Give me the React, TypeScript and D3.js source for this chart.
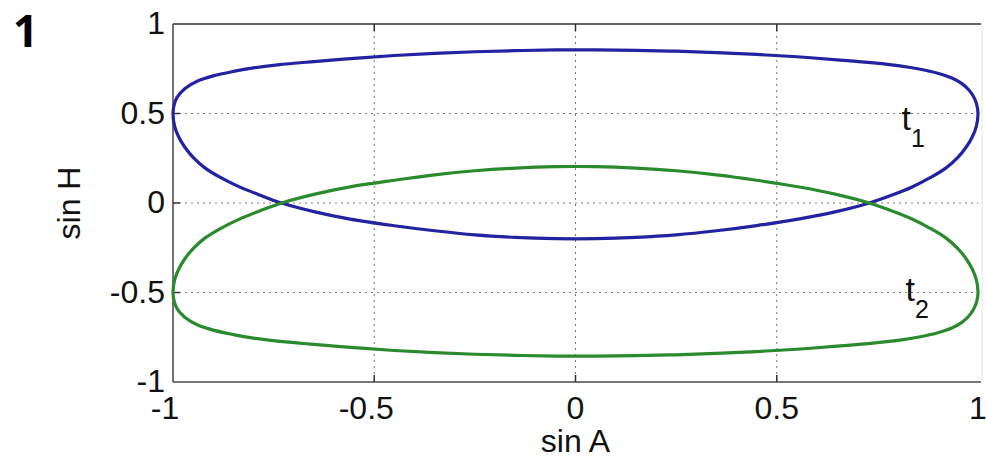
import { useEffect, useRef } from 'react';
import * as d3 from 'd3';

// sin A, sin H pairs
const t1Upper: [number, number][] = [
  [-1, 0.5], [-0.997, 0.55], [-0.99, 0.59], [-0.97, 0.64], [-0.94, 0.68], [-0.9, 0.71],
  [-0.85, 0.735], [-0.8, 0.755], [-0.74, 0.772], [-0.65, 0.79], [-0.55, 0.808],
  [-0.45, 0.824], [-0.35, 0.836], [-0.25, 0.845], [-0.15, 0.851], [-0.05, 0.855], [0.05, 0.855],
  [0.15, 0.853], [0.25, 0.848], [0.35, 0.84], [0.45, 0.83], [0.55, 0.817], [0.65, 0.8],
  [0.74, 0.783], [0.81, 0.765], [0.86, 0.746], [0.9, 0.725], [0.935, 0.698], [0.96, 0.667],
  [0.978, 0.63], [0.99, 0.59], [0.997, 0.548], [1, 0.5],
];
const t1Lower: [number, number][] = [
  [0.996, 0.43], [0.986, 0.37], [0.97, 0.31], [0.95, 0.255], [0.92, 0.195], [0.88, 0.14],
  [0.835, 0.088], [0.785, 0.043], [0.73, 0], [0.65, -0.047], [0.56, -0.087], [0.45, -0.126],
  [0.35, -0.155], [0.25, -0.178], [0.15, -0.192], [0.05, -0.199], [-0.05, -0.199],
  [-0.15, -0.192], [-0.25, -0.178], [-0.35, -0.155], [-0.45, -0.127], [-0.56, -0.09],
  [-0.65, -0.048], [-0.73, 0], [-0.785, 0.045], [-0.835, 0.09], [-0.88, 0.14],
  [-0.92, 0.195], [-0.95, 0.255], [-0.97, 0.31], [-0.986, 0.37], [-0.996, 0.43],
];
const t2Upper: [number, number][] = [
  [-1, -0.5], [-0.996, -0.43], [-0.986, -0.37], [-0.97, -0.31], [-0.95, -0.255],
  [-0.92, -0.195], [-0.88, -0.14], [-0.835, -0.09], [-0.785, -0.045], [-0.73, 0],
  [-0.65, 0.048], [-0.56, 0.09], [-0.45, 0.127], [-0.35, 0.157], [-0.25, 0.18], [-0.15, 0.195],
  [-0.05, 0.203], [0.05, 0.203], [0.15, 0.195], [0.25, 0.18], [0.35, 0.157], [0.45, 0.127],
  [0.56, 0.088], [0.65, 0.047], [0.73, 0], [0.785, -0.043], [0.835, -0.088], [0.88, -0.14],
  [0.92, -0.195], [0.95, -0.255], [0.97, -0.31], [0.986, -0.37], [0.996, -0.43], [1, -0.5],
];
const t2Lower: [number, number][] = [
  [0.997, -0.55], [0.99, -0.59], [0.978, -0.63], [0.96, -0.667], [0.935, -0.698],
  [0.9, -0.725], [0.86, -0.746], [0.81, -0.765], [0.74, -0.783], [0.65, -0.8], [0.55, -0.817],
  [0.45, -0.83], [0.35, -0.84], [0.25, -0.848], [0.15, -0.853], [0.05, -0.855],
  [-0.05, -0.855], [-0.15, -0.851], [-0.25, -0.845], [-0.35, -0.836], [-0.45, -0.824],
  [-0.55, -0.808], [-0.65, -0.79], [-0.74, -0.772], [-0.8, -0.755], [-0.85, -0.735],
  [-0.9, -0.71], [-0.94, -0.68], [-0.97, -0.64], [-0.99, -0.59], [-0.997, -0.55],
];

const xTicks = [-1, -0.5, 0, 0.5, 1];
const yTicks = [-1, -0.5, 0, 0.5, 1];
const xLabels = ['-1', '-0.5', '0', '0.5', '1'];
const yLabels = ['-1', '-0.5', '0', '0.5', '1'];

const W = 987;
const H = 459;
const FONT = '"Liberation Sans", Arial, sans-serif';

export default function App() {
  const svgRef = useRef<SVGSVGElement>(null);

  useEffect(() => {
    const svg = d3.select(svgRef.current);
    svg.selectAll('*').remove();

    const left = 173, right = 978, top = 24, bottom = 382;
    const x = d3.scaleLinear().domain([-1, 1]).range([left, right]);
    const y = d3.scaleLinear().domain([-1, 1]).range([bottom, top]);

    svg.append('rect').attr('width', W).attr('height', H).attr('fill', '#fff');

    // dotted grid
    const grid = svg.append('g').attr('stroke', '#777').attr('stroke-width', 1).attr('stroke-dasharray', '2 4');
    xTicks.slice(1, -1).forEach(t => {
      grid.append('line').attr('x1', x(t)).attr('x2', x(t)).attr('y1', top).attr('y2', bottom);
    });
    yTicks.slice(1, -1).forEach(t => {
      grid.append('line').attr('x1', left).attr('x2', right).attr('y1', y(t)).attr('y2', y(t));
    });

    // box
    svg.append('line').attr('x1', left).attr('x2', right + 3).attr('y1', top).attr('y2', top)
      .attr('stroke', '#666').attr('stroke-width', 2);
    svg.append('line').attr('x1', left).attr('x2', right + 3).attr('y1', bottom).attr('y2', bottom)
      .attr('stroke', '#777').attr('stroke-width', 2);
    svg.append('line').attr('x1', left).attr('x2', left).attr('y1', top).attr('y2', bottom)
      .attr('stroke', '#444').attr('stroke-width', 1.5);
    svg.append('line').attr('x1', right + 4).attr('x2', right + 4).attr('y1', top).attr('y2', bottom)
      .attr('stroke', '#e4e4e4').attr('stroke-width', 1);

    // inside ticks
    const ticks = svg.append('g').attr('stroke', '#333').attr('stroke-width', 1.5);
    xTicks.slice(1, -1).forEach(t => {
      ticks.append('line').attr('x1', x(t)).attr('x2', x(t)).attr('y1', bottom).attr('y2', bottom - 7);
      ticks.append('line').attr('x1', x(t)).attr('x2', x(t)).attr('y1', top).attr('y2', top + 7);
    });
    yTicks.slice(1, -1).forEach(t => {
      ticks.append('line').attr('x1', left).attr('x2', left + 7).attr('y1', y(t)).attr('y2', y(t));
    });

    // curves
    const line = d3.line<[number, number]>()
      .x(d => x(d[0]))
      .y(d => y(d[1]))
      .curve(d3.curveCatmullRomClosed.alpha(0.5));

    svg.append('path').attr('d', line([...t1Upper, ...t1Lower]))
      .attr('fill', 'none').attr('stroke', '#2222a2').attr('stroke-width', 3.2);
    svg.append('path').attr('d', line([...t2Upper, ...t2Lower]))
      .attr('fill', 'none').attr('stroke', '#2a8a2e').attr('stroke-width', 3.2);

    // tick labels
    const lab = svg.append('g').attr('font-family', FONT).attr('font-size', 32).attr('fill', '#111');
    xTicks.forEach((t, i) => {
      lab.append('text').attr('x', x(t) + (t < 0 ? -8 : 0)).attr('y', 419)
        .attr('text-anchor', 'middle').text(xLabels[i]);
    });
    yTicks.forEach((t, i) => {
      lab.append('text').attr('x', 165).attr('y', y(t) + 10)
        .attr('text-anchor', 'end').text(yLabels[i]);
    });

    // axis titles
    svg.append('text').attr('x', x(0)).attr('y', 452).attr('text-anchor', 'middle')
      .attr('font-family', FONT).attr('font-size', 32).attr('fill', '#111').text('sin A');
    svg.append('text').attr('transform', `translate(80, ${y(0)}) rotate(-90)`)
      .attr('text-anchor', 'middle').attr('font-family', FONT).attr('font-size', 32)
      .attr('fill', '#111').text('sin H');

    // curve labels
    const tag = (sx: number, sy: number, sub: string) => {
      const t = svg.append('text').attr('x', x(sx)).attr('y', y(sy))
        .attr('font-family', FONT).attr('font-size', 34).attr('fill', '#111');
      t.append('tspan').text('t');
      t.append('tspan').attr('font-size', 25).attr('dy', 17).text(sub);
    };
    tag(0.81, 0.41, '1');
    tag(0.82, -0.55, '2');

    // panel number
    svg.append('text').attr('x', 13).attr('y', 47)
      .attr('font-family', '"Open Sans", "Liberation Sans", sans-serif')
      .attr('font-weight', 700).attr('font-size', 44).attr('fill', '#000').text('1');
  }, []);

  return (
    <div style={{ position: 'absolute', left: 0, top: 0 }}>
      <svg ref={svgRef} width={W} height={H} style={{ display: 'block' }} />
    </div>
  );
}
